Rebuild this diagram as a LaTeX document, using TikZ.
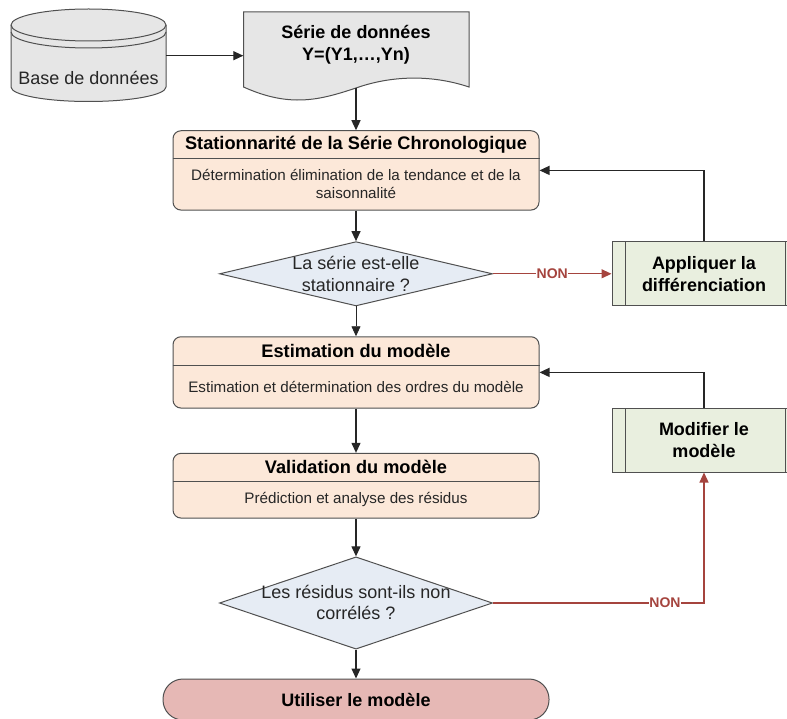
\documentclass[tikz,border=0pt]{standalone}
\usepackage{fontspec}
\setmainfont{Liberation Sans}
\usetikzlibrary{arrows.meta,shapes.geometric}
\definecolor{edgegray}{HTML}{505050}
\definecolor{docgray}{HTML}{E6E6E6}
\definecolor{peach}{HTML}{FCE8D9}
\definecolor{paleblue}{HTML}{E6ECF4}
\definecolor{palegreen}{HTML}{E9EFDF}
\definecolor{endred}{HTML}{E6B8B5}
\definecolor{nonred}{HTML}{A5443E}
\tikzstyle{arrow} = [line width=1.2pt,black!85,-{Triangle[length=10pt,width=9pt]}]
\tikzstyle{nonarrow} = [line width=1.2pt,nonred,-{Triangle[length=10pt,width=9pt]}]
\tikzstyle{nonlabel} = [fill=white,inner sep=0.5pt,text=nonred,font=\fontsize{14}{16}\selectfont\bfseries]
\tikzstyle{procbox} = [draw=edgegray,line width=1pt,fill=peach,rounded corners=8pt,minimum width=366pt,inner sep=0pt]
\tikzstyle{prochead} = [font=\fontsize{18.2}{20}\selectfont\bfseries,inner sep=0pt]
\tikzstyle{procbody} = [font=\fontsize{15.2}{18}\selectfont,align=center,inner sep=0pt,text=black!85]
\tikzstyle{question} = [draw=edgegray,line width=1pt,fill=paleblue,diamond,inner sep=0pt]
\tikzstyle{questext} = [font=\fontsize{18}{21.5}\selectfont,align=center,inner sep=0pt,text=black!85]
\tikzstyle{subproc} = [draw=edgegray,line width=1pt,fill=palegreen,minimum width=188pt,inner sep=0pt]
\tikzstyle{subtext} = [font=\fontsize{18}{21.5}\selectfont\bfseries,align=center,inner sep=0pt]
\begin{document}
\begin{tikzpicture}[x=1pt,y=-1pt]
	\useasboundingbox (0,0) rectangle (787,719);

	% define constants
	\def \cx {356}
	\def \gx {706}
	\def \gr {625}

	% Draw the data sources
	\draw[edgegray,line width=1pt,fill=docgray] (11,25) arc[start angle=180,end angle=360,x radius=77.5,y radius=16]
		-- (166,87) arc[start angle=0,end angle=180,x radius=77.5,y radius=14.5] -- cycle;
	\draw[edgegray,line width=1pt] (11,25) arc[start angle=180,end angle=0,x radius=77.5,y radius=16];
	\draw[edgegray,line width=1pt] (11,32) arc[start angle=180,end angle=0,x radius=77.5,y radius=16];
	\node[font=\fontsize{18}{20}\selectfont,inner sep=0pt,text=black!85,minimum width=155pt] (base) at (88.5,78) {Base de données};
	\coordinate (baseEast) at (166,55.7);

	\draw[edgegray,line width=1pt,fill=docgray] (243.5,12) -- (469,12) -- (469,87)
		.. controls (430,74) and (390,76) .. (\cx,88)
		.. controls (320,100) and (290,108) .. (243.5,87) -- cycle;
	\node[subtext,minimum width=225pt,minimum height=66pt] (serie) at (\cx,45) {Série de données\\Y=(Y1,…,Yn)};
	\coordinate (serieBottom) at (\cx,88);

	% Draw the process boxes
	\node[procbox,minimum height=79.3pt] (stat) at (\cx,170.4) {};
	\draw[edgegray,line width=1pt] (stat.west|-0,159) -- (stat.east|-0,159);
	\node[prochead] (statHead) at (\cx,144.5) {Stationnarité de la Série Chronologique};
	\node[procbody] (statBody) at (\cx,184) {Détermination élimination de la tendance et de la\\saisonnalité};

	\node[procbox,minimum height=71.3pt] (estim) at (\cx,372.4) {};
	\draw[edgegray,line width=1pt] (estim.west|-0,365) -- (estim.east|-0,365);
	\node[prochead] (estimHead) at (\cx,351) {Estimation du modèle};
	\node[procbody] (estimBody) at (\cx,387) {Estimation et détermination des ordres du modèle};

	\node[procbox,minimum height=64.7pt] (valid) at (\cx,485.7) {};
	\draw[edgegray,line width=1pt] (valid.west|-0,481.3) -- (valid.east|-0,481.3);
	\node[prochead] (validHead) at (\cx,467) {Validation du modèle};
	\node[procbody] (validBody) at (\cx,499.5) {Prédiction et analyse des résidus};

	% Draw the decisions
	\node[question,minimum width=273pt,minimum height=64.3pt] (statQ) at (\cx,273.8) {};
	\node[questext] (statQText) at (\cx,274) {La série est-elle\\stationnaire ?};
	\node[question,minimum width=273pt,minimum height=92.3pt] (resQ) at (\cx,603) {};
	\node[questext] (resQText) at (\cx,602.5) {Les résidus sont-ils non\\corrélés ?};

	% Draw the corrective steps
	\node[subproc,minimum height=64.3pt] (diff) at (\gx,273.8) {};
	\node[subtext] (diffText) at (704,274) {Appliquer la\\différenciation};
	\draw[edgegray,line width=1pt] (\gr,241.6) -- (\gr,306);
	\draw[edgegray,line width=1pt] (785,241.6) -- (785,306);

	\node[subproc,minimum height=64pt] (modif) at (\gx,440) {};
	\node[subtext] (modifText) at (704,440) {Modifier le\\modèle};
	\draw[edgegray,line width=1pt] (\gr,408) -- (\gr,472);
	\draw[edgegray,line width=1pt] (785,408) -- (785,472);

	\node[draw=edgegray,line width=1pt,fill=endred,rounded corners=20pt,minimum width=386pt,minimum height=41pt,inner sep=0pt,font=\fontsize{18}{20}\selectfont\bfseries] (utiliser) at (\cx,699.5) {Utiliser le modèle};

	% Draw the arrows
	\draw[arrow] (baseEast) -- (serie.west|-baseEast);
	\draw[arrow] (serieBottom) -- (stat.north);
	\draw[arrow] (stat.south) -- (statQ.north);
	\draw[arrow,line width=0.8pt] (statQ.south) -- (estim.north);
	\draw[arrow] (estim.south) -- (valid.north);
	\draw[arrow] (valid.south) -- (resQ.north);
	\draw[arrow] (resQ.south) -- (utiliser.north);
	\draw[arrow] (diffText|-diff.north) |- (stat.east);
	\draw[arrow] (modifText|-modif.north) |- (estim.east);
	\draw[nonarrow] (statQ.east) -- node[nonlabel] (nonStat) {NON} (diff.west);
	\draw[nonarrow] (resQ.east) -- (modifText|-resQ.east) node[nonlabel,pos=0.815] (nonRes) {NON} -- (modifText|-modif.south);
\end{tikzpicture}
\end{document}
